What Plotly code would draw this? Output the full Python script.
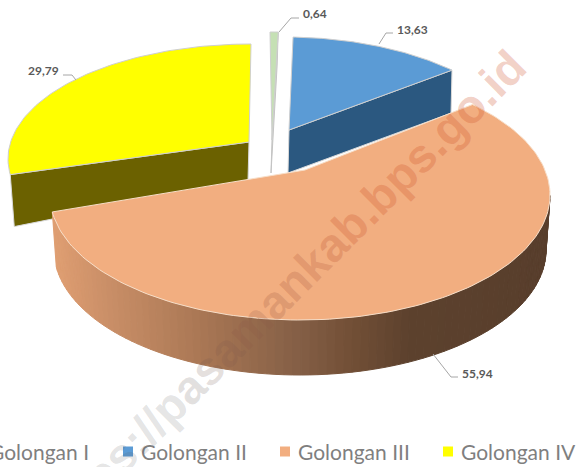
import numpy as np
import plotly.graph_objects as go

categories = ["Golongan I", "Golongan II", "Golongan III", "Golongan IV"]
values = [0.64, 13.63, 55.94, 29.79]
top_colors = ["#C5E0B4", "#5B9BD5", "#F2AE80", "#FFFF00"]
cut_colors = ["#D3DCCB", "#2B5880", "#8A5F41", "#6B6100"]
watermark = "https://pasamankab.bps.go.id"

W, H = 576, 467
# drawing geometry of each exploded slice (pixels of the projection)
GEOM = {
    0: dict(apex=(272, 140), c=(270, 147), a=245, b=115, drop=(-1, 33)),
    1: dict(apex=(289, 130), c=(285, 157), a=242, b=120, drop=(-1, 43)),
    2: dict(apex=(305, 170), c=(300, 195), a=250, b=125, drop=(0, 55)),
    3: dict(apex=(249, 142), c=(251, 159), a=243, b=115, drop=(4, 46)),
}
PERSP_DEG = 9.9

total = sum(values)
edges = np.concatenate([[0], np.cumsum(values)]) / total * 360.0


def phi(theta):
    return np.radians(theta - PERSP_DEG * np.sin(np.radians(theta)))


def arc(g, t0, t1, n=80, dy=0, dx=0, db=0, da=0):
    p = phi(np.linspace(t0, t1, n))
    return (g["c"][0] + dx + (g["a"] + da) * np.sin(p),
            g["c"][1] + dy - (g["b"] + db) * np.cos(p))


fig = go.Figure()


def poly(x, y, fill, line="rgba(0,0,0,0)", width=1):
    fig.add_trace(go.Scatter(x=list(x), y=list(y), mode="lines", fill="toself",
                             fillcolor=fill, line=dict(color=line, width=width),
                             hoverinfo="skip", showlegend=False))


def flat_slice(i):
    g = GEOM[i]
    t0, t1 = edges[i], edges[i + 1]
    ax, ay = g["apex"]
    x, y = arc(g, t0, t1)
    end = (x[0], y[0]) if i == 3 else (x[-1], y[-1])
    dx, dy = g["drop"]
    if i == 3:
        poly([ax, end[0], end[0] + dx, ax - 1, ax], [ay, end[1], end[1] + 52, ay + 38, ay], cut_colors[i], "#D9D9D9")
    else:
        poly([ax, end[0], end[0] + dx, ax + dx, ax], [ay, end[1], end[1] + dy, ay + dy, ay], cut_colors[i],
             "#C4C4C4" if i == 0 else "#D9D9D9")
    poly(np.r_[ax, x, ax], np.r_[ay, y, ay], top_colors[i], "#CFCFCF")


flat_slice(3)
flat_slice(1)
flat_slice(0)

g = GEOM[2]
t_left = edges[3]
t_right = 100.0
n_wall = 90
ts = np.linspace(t_left, t_right, n_wall + 1)
grad_x = [50, 100, 200, 300, 350, 410, 560]
grad_r = [225, 205, 170, 132, 115, 93, 88]
grad_g = [160, 145, 120, 95, 80, 66, 62]
grad_b = [115, 105, 85, 70, 55, 46, 44]
for j in range(n_wall):
    ux, uy = arc(g, ts[j], ts[j + 1], 4)
    lx, ly = arc(g, ts[j], ts[j + 1], 4, dy=55, da=-4)
    xm = ux.mean()
    col = "rgb(%d,%d,%d)" % (np.interp(xm, grad_x, grad_r), np.interp(xm, grad_x, grad_g), np.interp(xm, grad_x, grad_b))
    poly(np.r_[ux, lx[::-1], ux[0]], np.r_[uy, ly[::-1], uy[0]], col, col)

ax, ay = g["apex"]
x, y = arc(g, edges[2], edges[3], 160)
poly(np.r_[ax, x, ax], np.r_[ay, y, ay], top_colors[2], "#F7DEC8")

leaders = [
    ([279, 291, 299], [32, 18, 18]),
    ([379, 386, 393], [44, 33, 33]),
    ([433, 451, 458], [354, 377, 377]),
    ([63, 72, 76], [75, 75, 80]),
]
for lx, ly in leaders:
    fig.add_trace(go.Scatter(x=lx, y=ly, mode="lines", line=dict(color="#A6A6A6", width=1),
                             hoverinfo="skip", showlegend=False))

swatch_x = [None, 128, 285, 448]
swatch_y = 451.5
text_right = [91, None, None, None]
text_left = [None, 139, 296, 459]
for i in range(1, 4):
    fig.add_trace(go.Scatter(x=[swatch_x[i]], y=[swatch_y], mode="markers",
                             marker=dict(symbol="square", size=10, color=top_colors[i]),
                             hoverinfo="skip", showlegend=False))

anns = []
label_pos = [(315, 13), (412, 29), (477, 373), (43, 70)]
for v, (lx, ly) in zip(values, label_pos):
    anns.append(dict(x=lx, y=ly, xref="x", yref="y", showarrow=False,
                     text=("%.2f" % v).replace(".", ","),
                     font=dict(family="Lato, Carlito, sans-serif", size=12, color="#595959", weight="bold")))
for i, name in enumerate(categories):
    anns.append(dict(x=text_right[i] if i == 0 else text_left[i], y=swatch_y, xref="x", yref="y",
                     xanchor="right" if i == 0 else "left", showarrow=False, text=name,
                     font=dict(family="Lato, sans-serif", size=21, color="#7F7F7F")))

# watermark fades from grey to salmon along its length
wm_grey = np.array([95, 95, 95, 0.18])
wm_salmon = np.array([205, 75, 35, 0.26])
parts = []
n_chars = len(watermark)
for k, ch in enumerate(watermark):
    f = np.clip((k / (n_chars - 1) - 0.3) / 0.35, 0, 1)
    c = wm_grey + (wm_salmon - wm_grey) * f
    parts.append('<span style="color:rgba(%d,%d,%d,%.3f)">%s</span>' % (c[0], c[1], c[2], c[3], ch))
anns.append(dict(x=282, y=293, xref="x", yref="y", showarrow=False, textangle=-45,
                 text="".join(parts),
                 font=dict(family="Liberation Sans, Arial, sans-serif", size=47, weight="bold")))

fig.update_layout(
    width=W, height=H, margin=dict(l=0, r=0, t=0, b=0),
    paper_bgcolor="white", plot_bgcolor="white", showlegend=False,
    xaxis=dict(range=[0, W], visible=False, fixedrange=True),
    yaxis=dict(range=[H, 0], visible=False, fixedrange=True),
    annotations=anns,
)
fig.write_html("out.html", config=dict(displayModeBar=False),
               post_script="document.body.style.margin='0';document.body.style.overflow='hidden';")
